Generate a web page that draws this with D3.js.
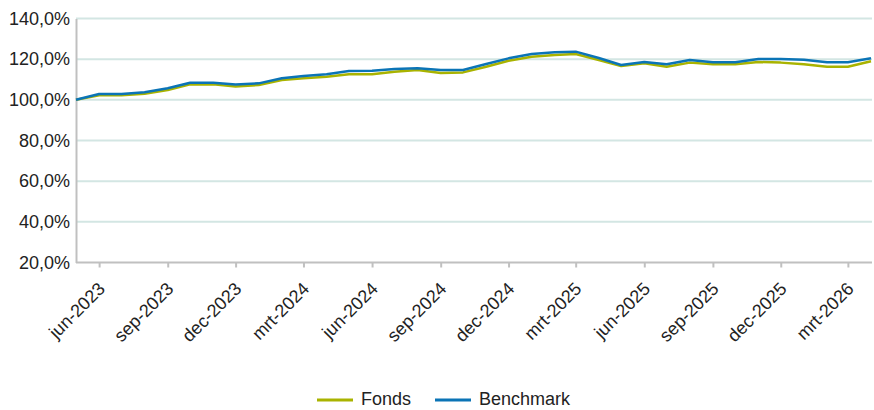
<!DOCTYPE html>
<html>
<head>
<meta charset="utf-8">
<script src="https://cdn.jsdelivr.net/npm/d3@7"></script>
<style>
  html, body { margin: 0; padding: 0; background: #fff; }
  svg { display: block; font-family: "Liberation Sans", Arial, sans-serif; }
</style>
</head>
<body>
<svg id="chart" width="874" height="410"></svg>
<script>
// ---- data ----
const months = [
  "2023-05","2023-06","2023-07","2023-08","2023-09","2023-10","2023-11","2023-12",
  "2024-01","2024-02","2024-03","2024-04","2024-05","2024-06","2024-07","2024-08","2024-09","2024-10","2024-11","2024-12",
  "2025-01","2025-02","2025-03","2025-04","2025-05","2025-06","2025-07","2025-08","2025-09","2025-10","2025-11","2025-12",
  "2026-01","2026-02","2026-03","2026-04"
];
const fonds = [
  100.0, 102.2, 102.2, 103.0, 104.8, 107.6, 107.6, 106.6,
  107.3, 109.8, 110.6, 111.4, 112.6, 112.6, 113.8, 114.7, 113.2, 113.5, 116.3, 119.2,
  121.2, 122.0, 122.5, 119.6, 116.6, 118.0, 116.3, 118.3, 117.5, 117.5, 118.6, 118.3,
  117.5, 116.3, 116.3, 119.0
];
const benchmark = [
  100.0, 102.9, 102.9, 103.7, 105.7, 108.4, 108.4, 107.5,
  108.1, 110.6, 111.7, 112.6, 114.2, 114.3, 115.2, 115.5, 114.7, 114.7, 117.6, 120.4,
  122.5, 123.4, 123.7, 120.6, 117.1, 118.6, 117.5, 119.6, 118.5, 118.5, 120.1, 120.1,
  119.7, 118.5, 118.5, 120.4
];
const tickMonths = ["2023-06","2023-09","2023-12","2024-03","2024-06","2024-09","2024-12","2025-03","2025-06","2025-09","2025-12","2026-03"];
const tickLabels = ["jun-2023","sep-2023","dec-2023","mrt-2024","jun-2024","sep-2024","dec-2024","mrt-2025","jun-2025","sep-2025","dec-2025","mrt-2026"];
const yTicks = [20, 40, 60, 80, 100, 120, 140];
const seriesNames = ["Fonds", "Benchmark"];
const seriesColors = ["#a9b300", "#0b74b6"];

// ---- chart ----
(function () {
const parse = d3.timeParse("%Y-%m");
const svg = d3.select("#chart");
const mLeft = 76, mRight = 871, mTop = 18.5, mBottom = 262.5;
const fontSize = 18;
const fontFam = "Liberation Sans, Arial, sans-serif";

const x = d3.scaleTime()
  .domain([parse(months[0]), parse(months[months.length - 1])])
  .range([mLeft, mRight]);
const y = d3.scaleLinear().domain([20, 140]).range([mBottom, mTop]);

// gridlines
svg.append("g")
  .selectAll("line")
  .data(yTicks.filter(v => v > 20))
  .join("line")
  .attr("x1", mLeft).attr("x2", mRight + 1)
  .attr("y1", d => y(d)).attr("y2", d => y(d))
  .attr("stroke", "#d3e6e3").attr("stroke-width", 2);

// y axis
const yAxis = svg.append("g")
  .attr("transform", `translate(${mLeft},0)`)
  .call(d3.axisLeft(y).tickValues(yTicks).tickSize(0).tickPadding(6)
    .tickFormat(d => d3.format(".1f")(d).replace(".", ",") + "%"));
yAxis.select(".domain").attr("stroke", "#c0c0c0").attr("stroke-width", 2);
yAxis.selectAll("text").attr("font-size", fontSize).attr("fill", "#222")
  .attr("font-family", fontFam);

// x axis
const xAxis = svg.append("g")
  .attr("transform", `translate(0,${mBottom})`)
  .call(d3.axisBottom(x).tickValues(tickMonths.map(parse)).tickSize(5).tickPadding(4)
    .tickFormat((d, i) => tickLabels[i]));
xAxis.select(".domain").attr("stroke", "#c0c0c0").attr("stroke-width", 2)
  .attr("d", `M${mLeft},0H${mRight + 1}`);
xAxis.selectAll(".tick line").attr("stroke", "#c0c0c0").attr("stroke-width", 2);
xAxis.selectAll("text")
  .attr("font-size", fontSize).attr("fill", "#222")
  .attr("font-family", fontFam)
  .attr("text-anchor", "end")
  .attr("x", 0).attr("y", 0)
  .attr("dy", "0.35em")
  .attr("transform", "translate(2,23) rotate(-45)");

// lines
const series = [fonds, benchmark];
const line = d3.line()
  .x((d, i) => x(parse(months[i])))
  .y(d => y(d));
svg.append("g")
  .selectAll("path")
  .data(series)
  .join("path")
  .attr("d", d => line(d))
  .attr("fill", "none")
  .attr("stroke", (d, i) => seriesColors[i])
  .attr("stroke-width", 2.5)
  .attr("stroke-linejoin", "round");

// legend
const legend = svg.append("g").attr("transform", "translate(317,400)");
const legendX = [0, 118];
seriesNames.forEach((name, i) => {
  const g = legend.append("g").attr("transform", `translate(${legendX[i]},0)`);
  g.append("line").attr("x1", 0).attr("x2", 36).attr("y1", 0).attr("y2", 0)
    .attr("stroke", seriesColors[i]).attr("stroke-width", 3);
  g.append("text").attr("x", 44).attr("y", 5)
    .attr("font-size", fontSize).attr("font-family", fontFam)
    .attr("fill", "#222").text(name);
});
})();
</script>
</body>
</html>
